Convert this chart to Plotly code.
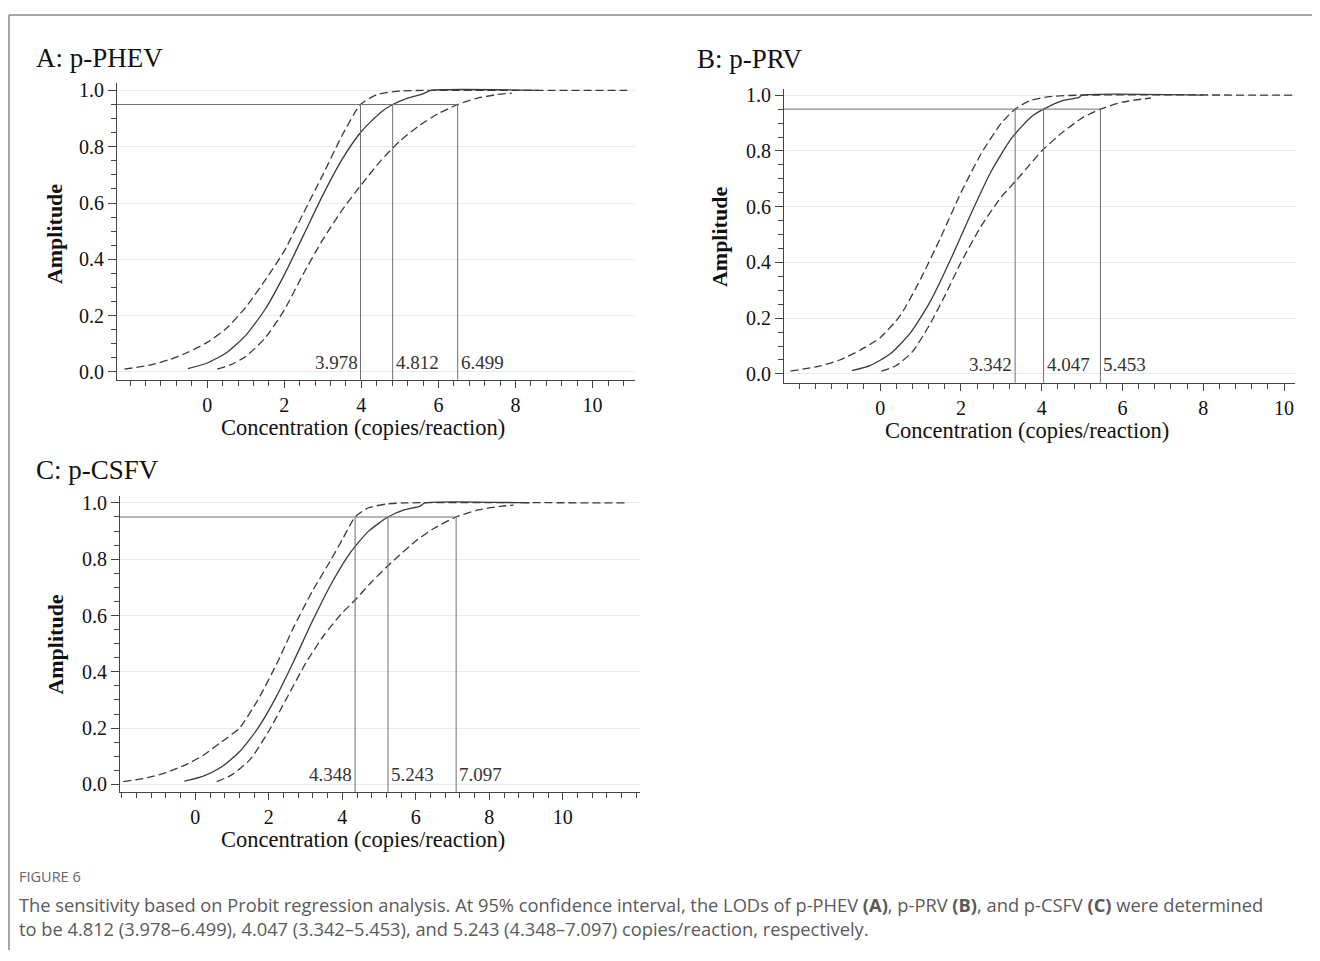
import plotly.graph_objects as go

# ---------------- data ----------------
# Panel A: p-PHEV
A_fit_x = [-0.5, 0.0, 0.5, 1.0, 1.5, 2.0, 2.5, 3.0, 3.5, 4.0, 4.5, 4.812, 5.2, 5.6, 5.8, 8.6]
A_fit_y = [0.012, 0.032, 0.068, 0.13, 0.222, 0.345, 0.486, 0.628, 0.755, 0.854, 0.922, 0.95, 0.973, 0.988, 1.0, 1.0]
A_low_x = [-2.15, -1.5, -1.0, -0.5, 0.0, 0.5, 1.0, 1.5, 2.0, 2.5, 3.0, 3.5, 3.978, 4.4, 5.0, 5.6, 10.9]
A_low_y = [0.01, 0.024, 0.043, 0.07, 0.105, 0.155, 0.23, 0.325, 0.43, 0.565, 0.70, 0.84, 0.95, 0.985, 0.998, 1.0, 1.0]
A_up_x = [0.26, 0.6, 1.0, 1.5, 2.0, 2.5, 3.0, 3.5, 4.0, 4.5, 5.0, 5.5, 6.0, 6.499, 7.0, 7.5, 7.9]
A_up_y = [0.01, 0.025, 0.055, 0.12, 0.22, 0.35, 0.47, 0.575, 0.665, 0.75, 0.82, 0.875, 0.918, 0.95, 0.972, 0.985, 0.99]
A_lod = [3.978, 4.812, 6.499]

# Panel B: p-PRV
B_fit_x = [-0.7, -0.25, 0.25, 0.75, 1.25, 1.75, 2.25, 2.75, 3.25, 3.75, 4.047, 4.5, 4.9, 5.0, 8.0]
B_fit_y = [0.012, 0.03, 0.072, 0.147, 0.262, 0.412, 0.575, 0.727, 0.845, 0.924, 0.95, 0.98, 0.991, 1.0, 1.0]
B_low_x = [-2.22, -1.5, -1.0, -0.5, 0.0, 0.5, 1.0, 1.5, 2.0, 2.5, 3.0, 3.342, 3.7, 4.2, 4.9, 10.25]
B_low_y = [0.01, 0.028, 0.05, 0.085, 0.13, 0.21, 0.34, 0.49, 0.65, 0.79, 0.90, 0.95, 0.98, 0.995, 1.0, 1.0]
B_up_x = [0.03, 0.4, 0.8, 1.2, 1.6, 2.0, 2.5, 3.0, 3.342, 3.7, 4.0, 4.5, 5.0, 5.453, 6.0, 6.7]
B_up_y = [0.01, 0.03, 0.08, 0.17, 0.28, 0.40, 0.53, 0.635, 0.69, 0.75, 0.80, 0.865, 0.918, 0.95, 0.975, 0.99]
B_lod = [3.342, 4.047, 5.453]

# Panel C: p-CSFV
C_fit_x = [-0.3, 0.2, 0.7, 1.2, 1.7, 2.2, 2.7, 3.2, 3.7, 4.2, 4.7, 5.243, 5.7, 6.1, 6.25, 9.1]
C_fit_y = [0.012, 0.029, 0.061, 0.116, 0.199, 0.311, 0.444, 0.584, 0.713, 0.82, 0.898, 0.95, 0.976, 0.988, 1.0, 1.0]
C_low_x = [-1.96, -1.3, -0.8, -0.3, 0.2, 0.7, 1.2, 1.7, 2.2, 2.7, 3.2, 3.7, 4.0, 4.348, 4.7, 5.2, 5.7, 11.75]
C_low_y = [0.01, 0.024, 0.042, 0.068, 0.102, 0.15, 0.2, 0.3, 0.425, 0.565, 0.69, 0.80, 0.87, 0.95, 0.982, 0.996, 1.0, 1.0]
C_up_x = [0.58, 1.0, 1.5, 2.0, 2.5, 3.0, 3.5, 4.0, 4.348, 4.8, 5.35, 6.0, 6.5, 7.097, 7.7, 8.3, 8.66]
C_up_y = [0.01, 0.035, 0.09, 0.19, 0.31, 0.43, 0.53, 0.61, 0.655, 0.72, 0.79, 0.865, 0.91, 0.95, 0.975, 0.988, 0.992]
C_lod = [4.348, 5.243, 7.097]

x_tickvals = [0, 2, 4, 6, 8, 10]
panel_titles = ["A: p-PHEV", "B: p-PRV", "C: p-CSFV"]
x_title = "Concentration (copies/reaction)"
y_title = "Amplitude"
confidence = 0.95
caption_head = "FIGURE 6"
caption_l1 = ("The sensitivity based on Probit regression analysis. At 95% confidence interval, the LODs of "
              "p-PHEV <b>(A)</b>, p-PRV <b>(B)</b>, and p-CSFV <b>(C)</b> were determined")
caption_l2 = ("to be 4.812 (3.978\u20136.499), 4.047 (3.342\u20135.453), and 5.243 (4.348\u20137.097) "
              "copies/reaction, respectively.")

# ---------------- layout geometry (page pixels; the page body has an 8px margin) ----------------
M = 8
W, H = 1312, 945


def fx(px):
    return (px - M) / W


def fy(py):
    return 1 - (py - M) / H


panels = [
    dict(data=(A_fit_x, A_fit_y, A_low_x, A_low_y, A_up_x, A_up_y), lod=A_lod,
         px=(117, 635), py=(79, 378), xr=[-2.34, 11.1], yr=[-0.028, 1.025],
         title_xy=(34, 53), ytitle_xy=(54, 231), xtitle_xy=(363, 426)),
    dict(data=(B_fit_x, B_fit_y, B_low_x, B_low_y, B_up_x, B_up_y), lod=B_lod,
         px=(784, 1295), py=(85, 381), xr=[-2.38, 10.27], yr=[-0.032, 1.021],
         title_xy=(695, 54), ytitle_xy=(719, 234), xtitle_xy=(1027, 429)),
    dict(data=(C_fit_x, C_fit_y, C_low_x, C_low_y, C_up_x, C_up_y), lod=C_lod,
         px=(120, 640), py=(495, 794), xr=[-2.05, 12.1], yr=[-0.028, 1.025],
         title_xy=(34, 469), ytitle_xy=(56, 645), xtitle_xy=(363, 842)),
]

SERIF = "Liberation Serif, Times New Roman, serif"
CURVE = "#3a3a3a"
REF = "#707070"
AXIS = "#444444"

fig = go.Figure()
shapes = []
annotations = []
layout_axes = {}

for i, p in enumerate(panels):
    n = "" if i == 0 else str(i + 1)
    xa, ya = "x" + n, "y" + n
    fxs, fys, lx, ly, ux, uy = p["data"]
    for xs, ys, dash in [(lx, ly, "8px,4px"), (ux, uy, "8px,4px"), (fxs, fys, "solid")]:
        fig.add_trace(go.Scatter(x=xs, y=ys, mode="lines", xaxis=xa, yaxis=ya,
                                 line=dict(color=CURVE, width=1.3, dash=dash, shape="spline", smoothing=0.6),
                                 showlegend=False, hoverinfo="skip"))
    lod = p["lod"]
    shapes.append(dict(type="line", xref=xa, yref=ya, x0=p["xr"][0], x1=lod[2], y0=confidence, y1=confidence,
                       line=dict(color=REF, width=1)))
    for k, v in enumerate(lod):
        shapes.append(dict(type="line", xref=xa, yref=ya, x0=v, x1=v, y0=p["yr"][0], y1=confidence,
                           line=dict(color=REF, width=1)))
        annotations.append(dict(x=v, y=0, xref=xa, yref=ya, text=f"{v:.3f}", showarrow=False,
                                xanchor="right" if k == 0 else "left", yanchor="bottom",
                                xshift=-1 if k == 0 else 1, yshift=-3,
                                font=dict(family=SERIF, size=19, color="#333")))
    layout_axes["xaxis" + n] = dict(
        domain=[fx(p["px"][0]), fx(p["px"][1])], range=p["xr"], anchor=ya,
        showline=True, linecolor=AXIS, linewidth=1, ticks="outside", ticklen=7, tickcolor=AXIS,
        tickmode="array", tickvals=x_tickvals, ticktext=[str(v) for v in x_tickvals],
        showgrid=False, zeroline=False,
        minor=dict(ticks="outside", ticklen=5, tickmode="linear", tick0=0, dtick=0.4,
                   tickcolor=AXIS, showgrid=False),
        tickfont=dict(family=SERIF, size=20, color="#111"), fixedrange=True)
    layout_axes["yaxis" + n] = dict(
        domain=[fy(p["py"][1]), fy(p["py"][0])], range=p["yr"], anchor=xa,
        showline=True, linecolor=AXIS, linewidth=1, ticks="outside", ticklen=8, tickcolor=AXIS,
        tick0=0, dtick=0.2, tickformat=".1f", showgrid=True, gridcolor="#e2eeee", gridwidth=1,
        zeroline=False,
        minor=dict(ticks="outside", ticklen=5, tick0=0, dtick=0.05, tickcolor=AXIS, showgrid=False),
        tickfont=dict(family=SERIF, size=20, color="#111"), fixedrange=True)
    tx, ty = p["title_xy"]
    annotations.append(dict(x=fx(tx), y=fy(ty), xref="paper", yref="paper", text=panel_titles[i],
                            showarrow=False, xanchor="left", yanchor="middle",
                            font=dict(family=SERIF, size=27, color="#111")))
    yx, yy = p["ytitle_xy"]
    annotations.append(dict(x=fx(yx), y=fy(yy), xref="paper", yref="paper", text="<b>" + y_title + "</b>",
                            showarrow=False, textangle=-90, xanchor="center", yanchor="middle",
                            font=dict(family=SERIF, size=22, color="#111")))
    xx, xy = p["xtitle_xy"]
    annotations.append(dict(x=fx(xx), y=fy(xy), xref="paper", yref="paper", text=x_title,
                            showarrow=False, xanchor="center", yanchor="middle",
                            font=dict(family=SERIF, size=22.5, color="#111")))

# frame (top and left border)
shapes.append(dict(type="line", xref="paper", yref="paper", x0=fx(9), x1=1.0, y0=fy(10), y1=fy(10),
                   line=dict(color="#8a8a8a", width=1.5)))
shapes.append(dict(type="line", xref="paper", yref="paper", x0=fx(9), x1=fx(9), y0=0, y1=fy(10),
                   line=dict(color="#8a8a8a", width=1.5)))

# caption
CAP = "Open Sans, Noto Sans, sans-serif"
annotations.append(dict(x=fx(17), y=fy(879), xref="paper", yref="paper", text=caption_head,
                        showarrow=False, xanchor="left", yanchor="middle",
                        font=dict(family=CAP, size=14.5, color="#666")))
annotations.append(dict(x=fx(17), y=fy(919), xref="paper", yref="paper", text=caption_l1 + "<br>" + caption_l2,
                        showarrow=False, xanchor="left", yanchor="middle", align="left",
                        font=dict(family=CAP, size=18.3, color="#5a5a5a")))

fig.update_layout(width=W, height=H, margin=dict(l=0, r=0, t=0, b=0),
                  paper_bgcolor="white", plot_bgcolor="white", showlegend=False,
                  shapes=shapes, annotations=annotations, **layout_axes)

fig.write_html("out.html")
